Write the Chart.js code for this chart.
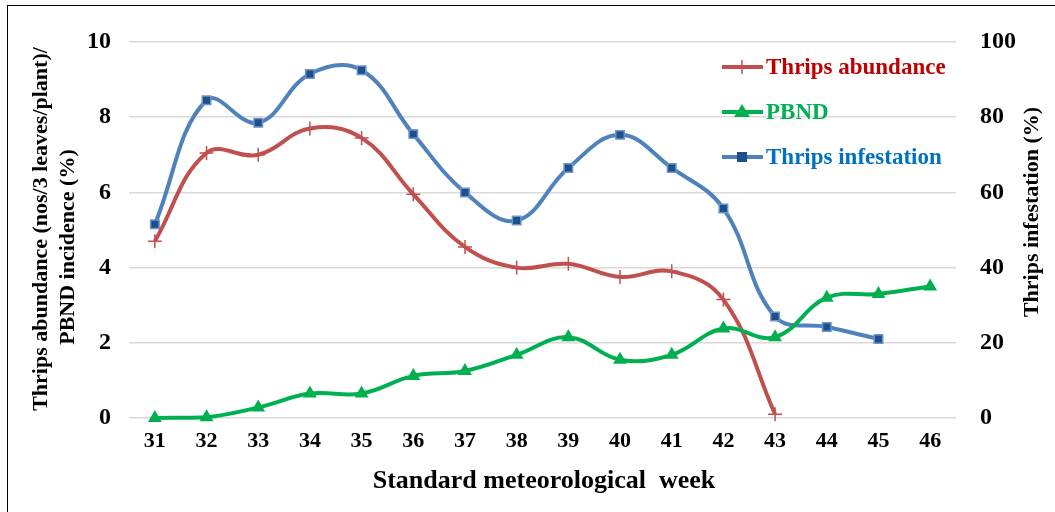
<!DOCTYPE html>
<html>
<head>
<meta charset="utf-8">
<script src="https://cdn.jsdelivr.net/npm/chart.js@4/dist/chart.umd.min.js"></script>
<style>
  html,body{margin:0;padding:0;background:#fff;overflow:hidden;}
  #wrap{position:relative;width:1055px;height:512px;}
  #frame{position:absolute;left:7px;top:5px;width:1060px;height:520px;border:1.5px solid #000;box-sizing:border-box;pointer-events:none;}
</style>
</head>
<body>
<div id="wrap">
  <canvas id="chart" width="1055" height="512"></canvas>
  <div id="frame"></div>
</div>
<script>
// data
const weeks = ['31','32','33','34','35','36','37','38','39','40','41','42','43','44','45','46'];
const abundance = [4.7, 7.05, 7.0, 7.7, 7.45, 5.95, 4.55, 4.0, 4.1, 3.75, 3.9, 3.15, 0.1, null, null, null];
const pbnd = [0, 0.02, 0.28, 0.65, 0.65, 1.12, 1.25, 1.68, 2.15, 1.55, 1.68, 2.38, 2.15, 3.2, 3.3, 3.5];
const infestation = [51.5, 84.5, 78.5, 91.5, 92.5, 75.5, 60, 52.5, 66.5, 75.3, 66.5, 55.7, 27, 24.2, 21, null];
const leftTicks = [0, 2, 4, 6, 8, 10];
const rightTicks = [0, 20, 40, 60, 80, 100];

const serif = '"Liberation Serif", "Times New Roman", serif';
const RED = '#C0504D', GREEN = '#00B050', BLUE = '#4F81BD', NAVY = '#1F4E8C';

// legend + axis titles drawn on top
const extras = {
  id: 'extras',
  afterDraw(chart){
    const c = chart.ctx;
    c.save();
    c.fillStyle = '#000';
    c.font = 'bold 22px ' + serif;
    c.textAlign = 'center';
    c.textBaseline = 'middle';
    // left title (two lines, bottom to top)
    c.save(); c.translate(41, 229); c.rotate(-Math.PI/2);
    c.fillText('Thrips abundance (nos/3 leaves/plant)/', 0, 0); c.restore();
    c.save(); c.translate(68, 247); c.rotate(-Math.PI/2);
    c.fillText('PBND incidence (%)', 0, 0); c.restore();
    // right title
    c.save(); c.translate(1032, 212); c.rotate(-Math.PI/2);
    c.fillText('Thrips infestation (%)', 0, 0); c.restore();
    // x title
    c.font = 'bold 26px ' + serif;
    c.fillText('Standard meteorological  week', 544, 481);

    // legend
    const items = [
      {t:'Thrips abundance', line:RED, txt:'#C00000', y:67, m:'cross'},
      {t:'PBND', line:GREEN, txt:'#00B050', y:112, m:'tri'},
      {t:'Thrips infestation', line:BLUE, txt:'#0070C0', y:157, m:'rect'}
    ];
    c.textAlign = 'left';
    c.font = 'bold 23px ' + serif;
    items.forEach(it=>{
      c.strokeStyle = it.line; c.lineWidth = 4; c.lineCap = 'butt';
      c.beginPath(); c.moveTo(722, it.y); c.lineTo(763, it.y); c.stroke();
      const mx = 742;
      if(it.m==='cross'){
        c.lineWidth = 1.5; c.beginPath();
        c.moveTo(mx, it.y-7); c.lineTo(mx, it.y+7); c.moveTo(mx-7, it.y); c.lineTo(mx+7, it.y); c.stroke();
      } else if(it.m==='tri'){
        c.fillStyle = GREEN; c.beginPath();
        c.moveTo(mx, it.y-8); c.lineTo(mx+8, it.y+5); c.lineTo(mx-8, it.y+5); c.closePath(); c.fill();
      } else {
        c.fillStyle = NAVY; c.fillRect(mx-5, it.y-5, 10, 10);
      }
      c.fillStyle = it.txt;
      c.fillText(it.t, 766, it.y+1);
    });
    c.restore();
  }
};

new Chart(document.getElementById('chart'), {
  type: 'line',
  data: {
    labels: weeks,
    datasets: [
      {label:'Thrips abundance', data: abundance, yAxisID:'y', borderColor: RED, backgroundColor: RED,
        borderWidth: 4, tension: 0.4, pointStyle:'cross', pointRadius: 7, pointBorderWidth: 1.5,
        pointBorderColor: RED, clip: false, order: 2},
      {label:'PBND', data: pbnd, yAxisID:'y', borderColor: GREEN, backgroundColor: GREEN,
        borderWidth: 4, tension: 0.4, pointStyle:'triangle', pointRadius: 8, pointBorderWidth: 0,
        clip: false, order: 1},
      {label:'Thrips infestation', data: infestation, yAxisID:'y2', borderColor: BLUE, backgroundColor: NAVY,
        borderWidth: 4, tension: 0.4, pointStyle:'rect', pointRadius: 6, pointBorderWidth: 1.5,
        pointBorderColor: '#6A95C8', clip: false, order: 3}
    ]
  },
  options: {
    responsive: false,
    animation: false,
    layout: {padding: {top: 42, left: 0, right: 0, bottom: 0}},
    plugins: {legend: {display: false}, tooltip: {enabled: false}},
    scales: {
      x: {
        offset: true,
        grid: {display: false, drawTicks: false},
        border: {display: false},
        ticks: {color:'#000', font:{family: serif, size: 22, weight:'bold'}, padding: 10, maxRotation: 0},
        afterFit(s){ s.height = 94; }
      },
      y: {
        position: 'left', min: 0, max: 10,
        afterBuildTicks(s){ s.ticks = leftTicks.map(v=>({value:v})); },
        grid: {color:'#D9D9D9', lineWidth: 1.5, drawTicks: false},
        border: {display: false},
        ticks: {color:'#000', font:{family: serif, size: 24, weight:'bold'}, padding: 18},
        afterFit(s){ s.width = 129; }
      },
      y2: {
        position: 'right', min: 0, max: 100,
        afterBuildTicks(s){ s.ticks = rightTicks.map(v=>({value:v})); },
        grid: {display: false, drawTicks: false},
        border: {display: false},
        ticks: {color:'#000', font:{family: serif, size: 24, weight:'bold'}, padding: 24},
        afterFit(s){ s.width = 99; }
      }
    }
  },
  plugins: [extras]
});
</script>
</body>
</html>
